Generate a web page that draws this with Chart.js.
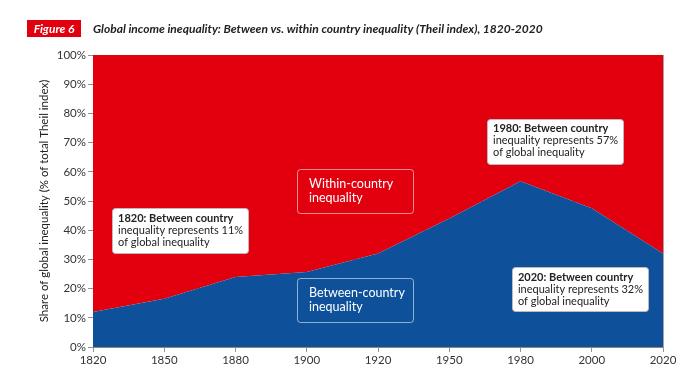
<!DOCTYPE html>
<html>
<head>
<meta charset="utf-8">
<script src="https://cdn.jsdelivr.net/npm/chart.js@4/dist/chart.umd.min.js"></script>
<style>
html,body{margin:0;padding:0;background:#fff;}
#wrap{width:700px;height:379px;position:relative;}
</style>
</head>
<body>
<div id="wrap"><canvas id="c" width="700" height="379"></canvas></div>
<script>
// ---- data ----
const years = ["1820","1850","1880","1900","1920","1950","1980","2000","2020"];
const betweenShare = [12, 16.5, 24, 25.7, 32, 44, 56.8, 47.5, 32];
const withinShare = betweenShare.map(v => 100 - v);
const yTickValues = [0,10,20,30,40,50,60,70,80,90,100];

const RED = "#e2000f";
const BLUE = "#0e519a";
const FONT = "Lato, 'Open Sans', sans-serif";

// annotation boxes in data coordinates (x = category index, y = percent)
const notes = [
  {x0:0.267, x1:2.175, y0:47.6, y1:32.2, fill:"#fff", stroke:"#bbb", color:"#222",
   lines:["1820: Between country","inequality represents 11%","of global inequality"], size:11, lh:12, bold0:true, pad:6, first:10},
  {x0:5.53, x1:7.44, y0:78.1, y1:62.7, fill:"#fff", stroke:"#bbb", color:"#222",
   lines:["1980: Between country","inequality represents 57%","of global inequality"], size:11, lh:12, bold0:true, pad:6, first:10},
  {x0:5.88, x1:7.79, y0:27.4, y1:12.3, fill:"#fff", stroke:"#bbb", color:"#222",
   lines:["2020: Between country","inequality represents 32%","of global inequality"], size:11, lh:12, bold0:true, pad:6, first:10},
  {x0:2.863, x1:4.49, y0:61.0, y1:45.9, fill:RED, stroke:"rgba(255,255,255,0.55)", color:"#fff",
   lines:["Within-country","inequality"], size:12.5, lh:14, bold0:false, pad:12, first:15},
  {x0:2.863, x1:4.49, y0:23.6, y1:8.6, fill:BLUE, stroke:"rgba(255,255,255,0.55)", color:"#fff",
   lines:["Between-country","inequality"], size:12.5, lh:14, bold0:false, pad:12, first:15}
];

const overlay = {
  id: "overlay",
  afterDraw(chart) {
    const ctx = chart.ctx;
    const xs = chart.scales.x, ys = chart.scales.y;
    ctx.save();
    // title
    ctx.fillStyle = RED;
    ctx.fillRect(27, 20, 54, 17);
    ctx.fillStyle = "#fff";
    ctx.font = "italic bold 12px " + FONT;
    ctx.textBaseline = "middle";
    ctx.textAlign = "center";
    ctx.fillText("Figure 6", 54, 29);
    ctx.fillStyle = "#222";
    ctx.textAlign = "left";
    ctx.font = "italic bold 12px " + FONT;
    ctx.fillText("Global income inequality: Between vs. within country inequality (Theil index), 1820-2020", 93, 29);
    // annotations
    notes.forEach(n => {
      const l = xs.getPixelForValue(n.x0), r = xs.getPixelForValue(n.x1);
      const t = ys.getPixelForValue(n.y0), b = ys.getPixelForValue(n.y1);
      ctx.beginPath();
      ctx.roundRect(Math.round(l)+0.5, Math.round(t)+0.5, Math.round(r-l), Math.round(b-t), 3);
      ctx.fillStyle = n.fill; ctx.fill();
      ctx.strokeStyle = n.stroke; ctx.lineWidth = 1; ctx.stroke();
      ctx.fillStyle = n.color;
      ctx.textAlign = "left"; ctx.textBaseline = "middle";
      n.lines.forEach((s, i) => {
        ctx.font = ((i === 0 && n.bold0) ? "bold " : "") + n.size + "px " + FONT;
        ctx.fillText(s, l + n.pad, t + n.first + i * n.lh);
      });
    });
    ctx.restore();
  }
};

new Chart(document.getElementById("c"), {
  type: "line",
  data: {
    labels: years,
    datasets: [
      {label:"Between-country inequality", data: betweenShare, backgroundColor: BLUE, borderColor: BLUE,
       borderWidth: 0, pointRadius: 0, fill: "origin", tension: 0},
      {label:"Within-country inequality", data: withinShare, backgroundColor: RED, borderColor: RED,
       borderWidth: 0, pointRadius: 0, fill: "-1", tension: 0}
    ]
  },
  options: {
    responsive: false,
    animation: false,
    layout: {padding: {top: 55, right: 37, bottom: 0, left: 0}},
    plugins: {legend: {display: false}, tooltip: {enabled: false}},
    scales: {
      x: {
        z: 1,
        offset: false,
        grid: {color: "rgba(0,0,0,0.45)", borderDash: [1.5, 1.5], lineWidth: 0.8, drawTicks: true, tickLength: 5, tickColor: "#777", tickBorderDash: []},
        border: {display: true, color: "#888", width: 1},
        ticks: {color: "#333", font: {family: FONT, size: 11.5}, padding: 1, maxRotation: 0, autoSkip: false},
        afterFit: s => { s.height = 32; }
      },
      y: {
        z: 1,
        stacked: true,
        min: 0, max: 100,
        afterBuildTicks: s => { s.ticks = yTickValues.map(v => ({value: v})); },
        grid: {color: "rgba(0,0,0,0.45)", borderDash: [1.5, 1.5], lineWidth: 0.8, drawTicks: true, tickLength: 5, tickColor: "#777", tickBorderDash: []},
        border: {display: true, color: "#888", width: 1},
        ticks: {color: "#333", font: {family: FONT, size: 11.5}, padding: 2, callback: v => v + "%"},
        title: {display: true, text: "Share of global inequality (% of total Theil index)", color: "#222",
                font: {family: FONT, size: 11.5}, padding: {top: 37, bottom: 0}},
        afterFit: s => { s.width = 93; }
      }
    }
  },
  plugins: [overlay]
});
</script>
</body>
</html>
